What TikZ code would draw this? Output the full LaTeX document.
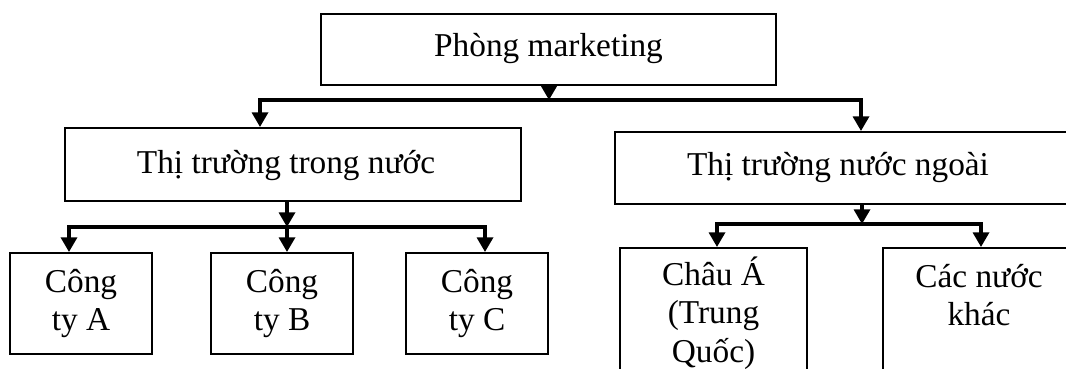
\documentclass[tikz,border=0pt]{standalone}
\usepackage{fontspec}
\setmainfont{Liberation Serif}
\usetikzlibrary{arrows.meta,fit}
\begin{document}
\begin{tikzpicture}[x=0.75pt,y=-0.75pt,
  box/.style={draw, line width=1.5pt, inner sep=0pt},
  txt/.style={font=\fontsize{25}{29}\selectfont, align=center, inner sep=0pt},
  bar/.style={line width=2.5pt, line cap=rect},
  arr/.style={line width=2.5pt, -{Triangle[width=12pt,length=11pt]}},
]
\useasboundingbox (0,0) rectangle (1066,368);
% boxes
\node[box, fit={(321,14) (776,85)}] (top) {};
\node[txt] (topT) at ([yshift=1pt]top.center) {Phòng marketing};
\node[box, fit={(65,128) (521,201)}] (dom) {};
\node[txt] (domT) at (286,166) {Thị trường trong nước};
\node[box, fit={(615,132) (1085,204)}] (for) {};
\node[txt] (forT) at (838,168) {Thị trường nước ngoài};
\node[box, fit={(10,253) (152,354)}] (ca) {};
\node[txt] (caT) at (ca.center) {Công\\ty A};
\node[box, fit={(211,253) (353,354)}] (cb) {};
\node[txt] (cbT) at (cb.center) {Công\\ty B};
\node[box, fit={(406,253) (548,354)}] (cc) {};
\node[txt] (ccT) at (cc.center) {Công\\ty C};
\node[box, fit={(620,248) (807,395)}] (asia) {};
\node[txt] (asiaT) at (713.5,313) {Châu Á\\(Trung\\Quốc)};
\node[box, fit={(883,248) (1075,395)}] (oth) {};
\node[txt] (othT) at (979,295) {Các nước\\khác};
% level 1 connectors
\coordinate (j1) at (549,100);
\coordinate (jL) at (260,100);
\coordinate (jR) at (861,100);
\draw[arr] (j1 |- top.south) -- (j1);
\draw[bar] (jL) -- (jR);
\draw[arr] (jL) -- (jL |- dom.north);
\draw[arr] (jR) -- (jR |- for.north);
% domestic connectors
\coordinate (k1) at (287,227);
\coordinate (kL) at (69,227);
\coordinate (kR) at (485,227);
\draw[arr] (k1 |- dom.south) -- (k1);
\draw[bar] (kL) -- (kR);
\draw[arr] (kL) -- (kL |- ca.north);
\draw[arr] (k1) -- (k1 |- cb.north);
\draw[arr] (kR) -- (kR |- cc.north);
% foreign connectors
\coordinate (m1) at (862,224);
\coordinate (mL) at (717,224);
\coordinate (mR) at (981,224);
\draw[arr] (m1 |- for.south) -- (m1);
\draw[bar] (mL) -- (mR);
\draw[arr] (mL) -- (mL |- asia.north);
\draw[arr] (mR) -- (mR |- oth.north);
\end{tikzpicture}
\end{document}
